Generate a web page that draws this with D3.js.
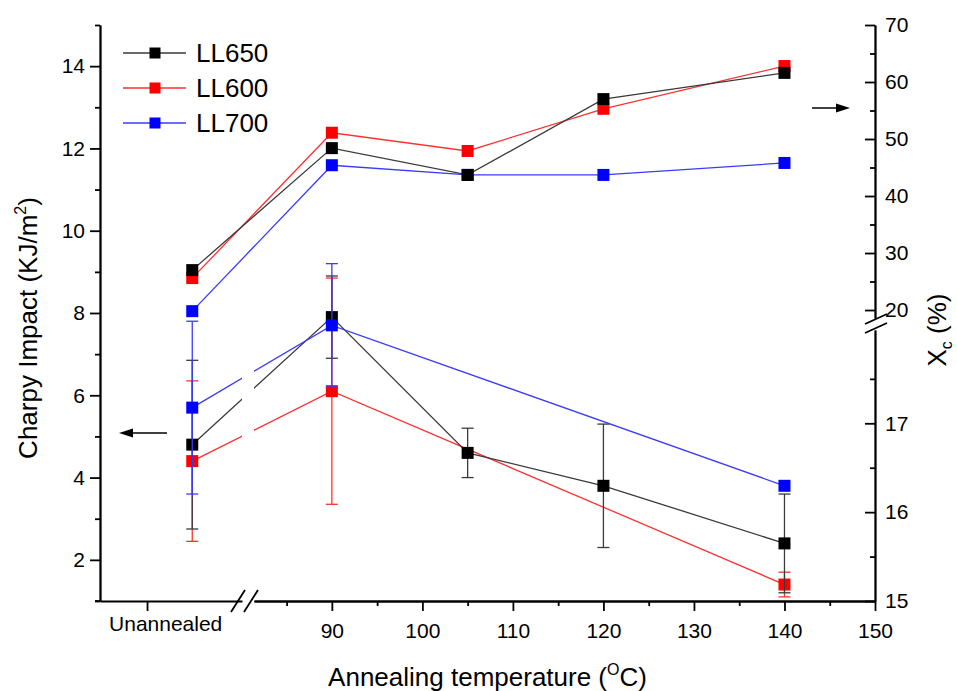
<!DOCTYPE html>
<html>
<head>
<meta charset="utf-8">
<script src="https://cdn.jsdelivr.net/npm/d3@7/dist/d3.min.js"></script>
<style>
    body { margin: 0; background: #fff; }
    svg { font-family: 'Liberation Sans', Arial, sans-serif; }
</style>
</head>
<body>
<div class="chart"></div>
<script>
// Data
// 25 stands for the unannealed samples (left of the axis break)
const temps = [25, 90, 105, 120, 140];
const unannealedTick = 20;
const xMajorTicks = [90, 100, 110, 120, 130, 140, 150];
const xMinorTicks = [85, 95, 105, 115, 125, 135, 145];

// Charpy impact (left axis), KJ/m2
const impactTempsLL650 = [25, 90, 105, 120, 140];
const impactLL650 = [4.8, 7.9, 4.6, 3.8, 2.4];
const impactErrLL650 = [2.05, 1.0, 0.6, 1.5, 1.2];
const impactTempsLL600 = [25, 90, 140];
const impactLL600 = [4.4, 6.1, 1.4];
const impactErrLL600 = [1.95, 2.75, 0.3];
const impactTempsLL700 = [25, 90, 140];
const impactLL700 = [5.7, 7.7, 3.8];
const impactErrLL700 = [2.1, 1.5, 0];

// Crystallinity Xc (right axis), %
const xcLL650 = [27.0, 48.4, 43.7, 57.0, 61.6];
const xcLL600 = [25.6, 51.1, 47.9, 55.3, 62.8];
const xcLL700 = [19.8, 45.4, 43.7, 43.7, 45.8];

const leftTicks = [2, 4, 6, 8, 10, 12, 14];
const leftMinorTicks = [1, 3, 5, 7, 9, 11, 13, 15];
const rightTicksUpper = [20, 30, 40, 50, 60, 70];
const rightMinorUpper = [25, 35, 45, 55, 65];
const rightTicksLower = [15, 16, 17];
const rightMinorLower = [15.5, 16.5, 17.5];

const seriesNames = ['LL650', 'LL600', 'LL700'];
const colors = { LL650: '#000000', LL600: '#ff0000', LL700: '#0000ff' };
const lineColors = { LL650: '#3a3a3a', LL600: '#ff3030', LL700: '#3a3aff' };

const impactSeries = [
    { name: 'LL600', temps: impactTempsLL600, values: impactLL600, errors: impactErrLL600 },
    { name: 'LL650', temps: impactTempsLL650, values: impactLL650, errors: impactErrLL650 },
    { name: 'LL700', temps: impactTempsLL700, values: impactLL700, errors: impactErrLL700 }
];
const xcSeries = [
    { name: 'LL700', values: xcLL700 },
    { name: 'LL600', values: xcLL600 },
    { name: 'LL650', values: xcLL650 }
];

// Dimensions
const dimensions = {
    width: 957,
    height: 691,
    left: 100,
    right: 875,
    top: 25,
    bottom: 601
};

const svg = d3.select('.chart')
    .append('svg')
    .attr('width', dimensions.width)
    .attr('height', dimensions.height);

// Scales (x and right y are broken into two segments)
const xLeftSeg = d3.scaleLinear().domain([14.8, 30.5]).range([dimensions.left, 242]);
const xRightSeg = d3.scaleLinear().domain([81.4, 150]).range([254, dimensions.right]);
const xScale = t => t < 50 ? xLeftSeg(t) : xRightSeg(t);

const yLeft = d3.scaleLinear().domain([1, 15]).range([dimensions.bottom, dimensions.top]);
const yUpper = d3.scaleLinear().domain([18.6, 70]).range([318, dimensions.top]);
const yLower = d3.scaleLinear().domain([15, 18.05]).range([dimensions.bottom, 330]);
const yRight = v => v >= 18.6 ? yUpper(v) : yLower(v);

const tickFont = 21;

// Axes
const axisStyle = g => {
    g.selectAll('path, line').attr('stroke', '#000').attr('stroke-width', 1.8);
    g.selectAll('text').attr('font-size', tickFont).attr('fill', '#000');
};

// left
svg.append('g')
    .attr('transform', `translate(${dimensions.left},0)`)
    .call(d3.axisLeft(yLeft).tickValues(leftTicks).tickSize(10).tickSizeOuter(0).tickPadding(5))
    .call(axisStyle);
svg.append('g')
    .attr('transform', `translate(${dimensions.left},0)`)
    .call(d3.axisLeft(yLeft).tickValues(leftMinorTicks).tickSize(5).tickSizeOuter(0).tickFormat(''))
    .call(axisStyle);

// right (ticks point inward)
[[yUpper, rightTicksUpper, rightMinorUpper], [yLower, rightTicksLower, rightMinorLower]].forEach(([scale, major, minor]) => {
    svg.append('g')
        .attr('transform', `translate(${dimensions.right},0)`)
        .call(d3.axisRight(scale).tickValues(major).tickSize(-10).tickSizeOuter(0).tickPadding(10).tickFormat(d3.format('d')))
        .call(axisStyle);
    svg.append('g')
        .attr('transform', `translate(${dimensions.right},0)`)
        .call(d3.axisRight(scale).tickValues(minor).tickSize(-5).tickSizeOuter(0).tickFormat(''))
        .call(axisStyle);
});

// bottom
const xAxisLeft = svg.append('g')
    .attr('transform', `translate(0,${dimensions.bottom})`)
    .call(d3.axisBottom(xLeftSeg).tickValues([unannealedTick]).tickSize(10).tickSizeOuter(0).tickFormat(''))
    .call(axisStyle);
svg.append('g')
    .attr('transform', `translate(0,${dimensions.bottom})`)
    .call(d3.axisBottom(xRightSeg).tickValues(xMajorTicks).tickSize(10).tickSizeOuter(0).tickPadding(12))
    .call(axisStyle);
svg.append('g')
    .attr('transform', `translate(0,${dimensions.bottom})`)
    .call(d3.axisBottom(xRightSeg).tickValues(xMinorTicks).tickSize(5).tickSizeOuter(0).tickFormat(''))
    .call(axisStyle);

// extend left axis below to meet the minor tick at 1
svg.append('line')
    .attr('x1', dimensions.left - 5).attr('x2', dimensions.left)
    .attr('y1', dimensions.bottom).attr('y2', dimensions.bottom)
    .attr('stroke', '#000').attr('stroke-width', 1.8);

xAxisLeft.append('text')
    .attr('x', xLeftSeg(unannealedTick) - 38)
    .attr('y', 30)
    .attr('font-size', tickFont)
    .attr('fill', '#000')
    .attr('text-anchor', 'start')
    .text('Unannealed');

// break marks
const breakMark = (x, y, dx, dy) => svg.append('line')
    .attr('x1', x - dx).attr('y1', y + dy)
    .attr('x2', x + dx).attr('y2', y - dy)
    .attr('stroke', '#000').attr('stroke-width', 1.8);
breakMark(238, dimensions.bottom, 7, 11);
breakMark(251, dimensions.bottom, 7, 11);
breakMark(dimensions.right + 1, 319, 11, 5);
breakMark(dimensions.right + 1, 328, 11, 5);

// clip to hide the lower lines across the x break
const defs = svg.append('defs');
const clip = defs.append('clipPath').attr('id', 'xbreak');
clip.append('rect').attr('x', 0).attr('y', 0).attr('width', 242).attr('height', dimensions.height);
clip.append('rect').attr('x', 254).attr('y', 0).attr('width', dimensions.width - 254).attr('height', dimensions.height);

const markerSize = 12;
const capWidth = 12;

// Xc series (right axis)
const xcGroup = svg.append('g');
xcSeries.forEach(s => {
    const pts = temps.map((t, i) => ({ t, v: s.values[i] }));
    xcGroup.append('path')
        .datum(pts)
        .attr('fill', 'none')
        .attr('stroke', lineColors[s.name])
        .attr('stroke-width', 1.3)
        .attr('d', d3.line().x(d => xScale(d.t)).y(d => yRight(d.v)));
    xcGroup.selectAll(null)
        .data(pts)
        .join('rect')
        .attr('x', d => xScale(d.t) - markerSize / 2)
        .attr('y', d => yRight(d.v) - markerSize / 2)
        .attr('width', markerSize)
        .attr('height', markerSize)
        .attr('fill', colors[s.name]);
});

// Impact series (left axis)
const impactGroup = svg.append('g');
impactSeries.forEach(s => {
    const pts = s.temps.map((t, i) => ({ t, v: s.values[i], e: s.errors[i] }));
    impactGroup.append('path')
        .datum(pts)
        .attr('clip-path', 'url(#xbreak)')
        .attr('fill', 'none')
        .attr('stroke', lineColors[s.name])
        .attr('stroke-width', 1.3)
        .attr('d', d3.line().x(d => xScale(d.t)).y(d => yLeft(d.v)));
    const errPts = pts.filter(d => d.e > 0);
    const err = impactGroup.selectAll(null)
        .data(errPts)
        .join('g')
        .attr('stroke', lineColors[s.name])
        .attr('stroke-width', 1.3);
    err.append('line')
        .attr('x1', d => xScale(d.t)).attr('x2', d => xScale(d.t))
        .attr('y1', d => yLeft(d.v + d.e)).attr('y2', d => yLeft(d.v - d.e));
    err.append('line')
        .attr('x1', d => xScale(d.t) - capWidth / 2).attr('x2', d => xScale(d.t) + capWidth / 2)
        .attr('y1', d => yLeft(d.v + d.e)).attr('y2', d => yLeft(d.v + d.e));
    err.append('line')
        .attr('x1', d => xScale(d.t) - capWidth / 2).attr('x2', d => xScale(d.t) + capWidth / 2)
        .attr('y1', d => yLeft(d.v - d.e)).attr('y2', d => yLeft(d.v - d.e));
    impactGroup.selectAll(null)
        .data(pts)
        .join('rect')
        .attr('x', d => xScale(d.t) - markerSize / 2)
        .attr('y', d => yLeft(d.v) - markerSize / 2)
        .attr('width', markerSize)
        .attr('height', markerSize)
        .attr('fill', colors[s.name]);
});

// Arrows pointing at the matching axis
const arrow = (x1, x2, y) => {
    const dir = Math.sign(x2 - x1);
    svg.append('line')
        .attr('x1', x1).attr('x2', x2 - dir * 8)
        .attr('y1', y).attr('y2', y)
        .attr('stroke', '#000').attr('stroke-width', 1.5);
    svg.append('path')
        .attr('d', `M${x2},${y} L${x2 - dir * 14},${y - 4.5} L${x2 - dir * 14},${y + 4.5} Z`)
        .attr('fill', '#000');
};
arrow(167, 119, 433);
arrow(812, 850, 108);

// Legend
const legend = svg.append('g');
seriesNames.forEach((name, i) => {
    const y = 53 + i * 35;
    legend.append('line')
        .attr('x1', 123).attr('x2', 186)
        .attr('y1', y).attr('y2', y)
        .attr('stroke', lineColors[name])
        .attr('stroke-width', 1.3);
    legend.append('rect')
        .attr('x', 155 - 5.5).attr('y', y - 5.5)
        .attr('width', 11).attr('height', 11)
        .attr('fill', colors[name]);
    legend.append('text')
        .attr('x', 196).attr('y', y)
        .attr('dy', '0.36em')
        .attr('font-size', 26)
        .text(name);
});

// Axis titles
const titleFont = 26;
const xTitle = svg.append('text')
    .attr('x', (dimensions.left + dimensions.right) / 2)
    .attr('y', 686)
    .attr('text-anchor', 'middle')
    .attr('font-size', titleFont);
xTitle.append('tspan').text('Annealing temperature (');
xTitle.append('tspan').attr('font-size', 16).attr('dy', -11).text('O');
xTitle.append('tspan').attr('dy', 11).text('C)');

const yTitle = svg.append('text')
    .attr('transform', `translate(37,${328}) rotate(-90)`)
    .attr('text-anchor', 'middle')
    .attr('font-size', titleFont);
yTitle.append('tspan').text('Charpy Impact (KJ/m');
yTitle.append('tspan').attr('font-size', 16).attr('dy', -11).text('2');
yTitle.append('tspan').attr('dy', 11).text(')');

const y2Title = svg.append('text')
    .attr('transform', `translate(946,${330}) rotate(-90)`)
    .attr('text-anchor', 'middle')
    .attr('font-size', titleFont);
y2Title.append('tspan').text('X');
y2Title.append('tspan').attr('font-size', 16).attr('dy', 6).text('c');
y2Title.append('tspan').attr('dy', -6).text(' (%)');
</script>
</body>
</html>
